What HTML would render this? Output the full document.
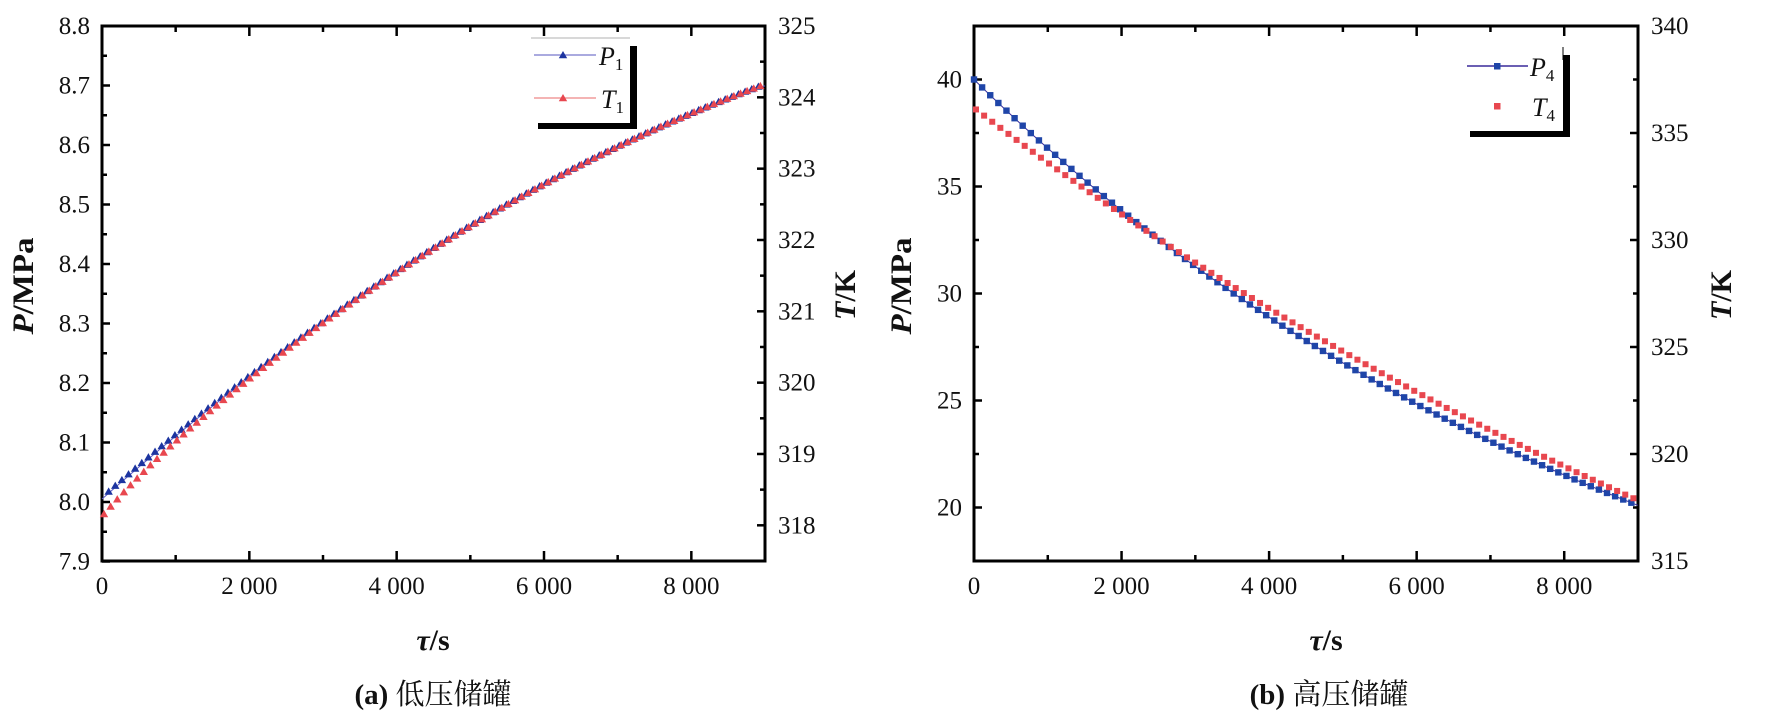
<!DOCTYPE html>
<html><head><meta charset="utf-8">
<style>
html,body{margin:0;padding:0;background:#fff;}
svg{display:block;}
text{font-family:"Liberation Serif","Noto Serif CJK SC",serif;fill:#111;}
</style></head><body>
<svg id="s" width="1772" height="727" xmlns="http://www.w3.org/2000/svg"></svg>
<script>
const s=document.getElementById('s');let h='';
const T=26,B=561;
function axes(L,R,lt,rt,lmin,rmin){
  let o='';
  o+=`<rect x="${L}" y="${T}" width="${R-L}" height="${B-T}" fill="none" stroke="#000" stroke-width="3"/>`;
  const X=t=>L+t/9000*(R-L);
  for(let t=0;t<=9000;t+=1000){const x=X(t);const len=(t%2000==0)?10:6;
    o+=`<line x1="${x}" y1="${B}" x2="${x}" y2="${B-len}" stroke="#000" stroke-width="2.5"/>`;
    o+=`<line x1="${x}" y1="${T}" x2="${x}" y2="${T+len}" stroke="#000" stroke-width="2.5"/>`;
    if(t%2000==0){o+=`<text x="${x}" y="${594}" font-size="25" text-anchor="middle">${t==0?'0':(t/1000)+' 000'}</text>`;}
  }
  lt.forEach(([y,lab])=>{o+=`<line x1="${L}" y1="${y}" x2="${L+8}" y2="${y}" stroke="#000" stroke-width="2.5"/>`;
    if(lab!==null)o+=`<text x="${L-12}" y="${y+8}" font-size="25" text-anchor="end">${lab}</text>`;});
  lmin.forEach(y=>{o+=`<line x1="${L}" y1="${y}" x2="${L+5}" y2="${y}" stroke="#000" stroke-width="2.5"/>`;});
  rt.forEach(([y,lab])=>{o+=`<line x1="${R}" y1="${y}" x2="${R-8}" y2="${y}" stroke="#000" stroke-width="2.5"/>`;
    o+=`<text x="${R+13}" y="${y+8}" font-size="25">${lab}</text>`;});
  rmin.forEach(y=>{o+=`<line x1="${R}" y1="${y}" x2="${R-5}" y2="${y}" stroke="#000" stroke-width="2.5"/>`;});
  return o;
}
// Plot a
{const L=102,R=765;const Y=p=>T+(8.8-p)*595;const YT=k=>T+(325-k)*71.33;
 let lt=[],lmin=[],rt=[],rmin=[];
 for(let i=0;i<=9;i++){const p=7.9+i*0.1;lt.push([Y(p),p.toFixed(1)]);if(i<9)lmin.push(Y(p+0.05));}
 for(let k=318;k<=325;k++){rt.push([YT(k),k]);}
 for(let k=317.5;k<325;k+=1)rmin.push(YT(k));
 h+=axes(L,R,lt,rt,lmin,rmin);
 const X=t=>L+t/9000*(R-L);
 const P=t=>8.005+1.092e-4*t-3.56e-9*t*t;
 const Tq=t=>P(t)-0.025*Math.exp(-t/900)+0.004*(1-Math.exp(-t/900));
 const tri=(x,y,c)=>`<polygon points="${x-4.2},${y+3.3} ${x+4.2},${y+3.3} ${x},${y-4}" fill="${c}"/>`;
 let pl='';for(let t=0;t<=9000;t+=90){pl+=`${X(t)},${Y(P(t))} `;}
 h+=`<polyline points="${pl}" fill="none" stroke="#5a5ac8" stroke-width="1"/>`;
 for(let t=90;t<=8950;t+=90){h+=tri(X(t),Y(P(t)+0.003),'#1c34a0');}
 for(let t=0;t<=8950;t+=90){h+=tri(X(t)+2,Y(Tq(t)),'#e8474f');}
 h+=`<line x1="531" y1="38" x2="630" y2="38" stroke="#ccc" stroke-width="1.5"/>`;
 h+=`<rect x="538" y="123" width="99" height="6" fill="#000"/><rect x="630" y="46" width="7" height="83" fill="#000"/>`;
 h+=`<line x1="534" y1="55" x2="596" y2="55" stroke="#7777cc" stroke-width="1.2"/>`+tri(563,55,'#1c34a0');
 h+=`<line x1="534" y1="98" x2="596" y2="98" stroke="#e88" stroke-width="1.2"/>`+tri(563,98,'#e8474f');
 h+=`<text x="599" y="65" font-size="26" font-style="italic">P<tspan font-size="17" font-style="normal" dy="5">1</tspan></text>`;
 h+=`<text x="601" y="108" font-size="26" font-style="italic">T<tspan font-size="17" font-style="normal" dy="5">1</tspan></text>`;
 h+=`<text transform="translate(33,286) rotate(-90)" font-size="30" font-weight="bold" text-anchor="middle" textLength="97" lengthAdjust="spacingAndGlyphs"><tspan font-style="italic">P</tspan>/MPa</text>`;
 h+=`<text transform="translate(855,295) rotate(-90)" font-size="30" font-weight="bold" text-anchor="middle" textLength="50" lengthAdjust="spacingAndGlyphs"><tspan font-style="italic">T</tspan>/K</text>`;
 h+=`<text x="433" y="650" font-size="30" font-weight="bold" text-anchor="middle"><tspan font-style="italic">τ</tspan>/s</text>`;
 h+=`<text x="433" y="704" font-size="29" text-anchor="middle"><tspan font-weight="bold">(a)</tspan> 低压储罐</text>`;
}
// Plot b
{const L=974,R=1638;const Y=p=>T+(42.5-p)*21.4;const YT=k=>T+(340-k)*21.4;
 let lt=[],lmin=[],rt=[],rmin=[];
 for(let p=20;p<=40;p+=5)lt.push([Y(p),p]);
 for(let p=17.5;p<=42.5;p+=5)lmin.push(Y(p));
 for(let k=315;k<=340;k+=5)rt.push([YT(k),k]);
 for(let k=317.5;k<340;k+=5)rmin.push(YT(k));
 h+=axes(L,R,lt,rt,lmin,rmin);
 const X=t=>L+t/9000*(R-L);
 const P=t=>6.93+33.07*Math.exp(-t/9777);
 const Tq=t=>-5.5+44.1*Math.exp(-t/16780);
 let pl='';for(let t=0;t<=9000;t+=100)pl+=`${X(t)},${Y(P(t))} `;
 h+=`<polyline points="${pl}" fill="none" stroke="#3a2a9a" stroke-width="1"/>`;
 for(let t=0;t<=9000;t+=110){h+=`<rect x="${X(t)-3.2}" y="${Y(P(t))-3.2}" width="6.4" height="6.4" fill="#1f45a8"/>`;}
 for(let t=0;t<=9000;t+=110){h+=`<rect x="${X(t)+2-3}" y="${Y(Tq(t))-3}" width="6" height="6" fill="#e8474f"/>`;}
 h+=`<line x1="1563" y1="47" x2="1563" y2="60" stroke="#000" stroke-width="1"/>`;
 h+=`<rect x="1470" y="131" width="100" height="6" fill="#000"/><rect x="1563" y="55" width="7" height="82" fill="#000"/>`;
 h+=`<line x1="1467" y1="66" x2="1528" y2="66" stroke="#3a2a9a" stroke-width="1.5"/><rect x="1494" y="63" width="6.5" height="6.5" fill="#1f45a8"/>`;
 h+=`<rect x="1494" y="103" width="6.5" height="6.5" fill="#e8474f"/>`;
 h+=`<text x="1530" y="76" font-size="26" font-style="italic">P<tspan font-size="17" font-style="normal" dy="5">4</tspan></text>`;
 h+=`<text x="1532" y="116" font-size="26" font-style="italic">T<tspan font-size="17" font-style="normal" dy="5">4</tspan></text>`;
 h+=`<text transform="translate(911,286) rotate(-90)" font-size="30" font-weight="bold" text-anchor="middle" textLength="97" lengthAdjust="spacingAndGlyphs"><tspan font-style="italic">P</tspan>/MPa</text>`;
 h+=`<text transform="translate(1731,295) rotate(-90)" font-size="30" font-weight="bold" text-anchor="middle" textLength="50" lengthAdjust="spacingAndGlyphs"><tspan font-style="italic">T</tspan>/K</text>`;
 h+=`<text x="1326" y="650" font-size="30" font-weight="bold" text-anchor="middle"><tspan font-style="italic">τ</tspan>/s</text>`;
 h+=`<text x="1329" y="704" font-size="29" text-anchor="middle"><tspan font-weight="bold">(b)</tspan> 高压储罐</text>`;
}
s.innerHTML=h;
</script>
</body></html>
